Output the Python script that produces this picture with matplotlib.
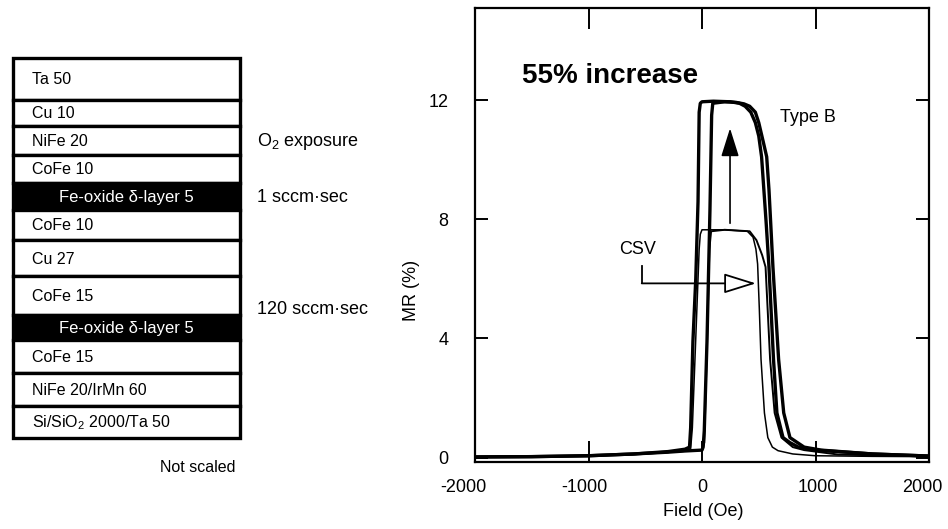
import matplotlib
matplotlib.use("Agg")
import matplotlib.pyplot as plt
from matplotlib.patches import Rectangle

plt.rcParams['font.family'] = ['Liberation Sans', 'DejaVu Sans']
plt.rcParams['mathtext.fontset'] = 'custom'
plt.rcParams['mathtext.rm'] = 'Liberation Sans'
plt.rcParams['mathtext.default'] = 'regular'

# ---------------- data ----------------
layer_names = ["Ta 50", "Cu 10", "NiFe 20", "CoFe 10", "Fe-oxide \u03b4-layer 5",
               "CoFe 10", "Cu 27", "CoFe 15", "Fe-oxide \u03b4-layer 5", "CoFe 15",
               "NiFe 20/IrMn 60", "Si/SiO$_2$ 2000/Ta 50"]
layer_oxide = [False, False, False, False, True, False, False, False, True, False, False, False]

exposure_title = "O$_2$ exposure"
exposure_labels = ["1 sccm\u00b7sec", "120 sccm\u00b7sec"]

# Type B (thick) - decreasing-field branch
tb_desc_field = [2000, 1500, 1000, 850, 775, 714, 660, 630, 590, 565, 545, 525, 500, 470,
                 430, 380, 330, 250, 100, 0, -15, -25, -35, -55, -80, -100, -110, -150, -300,
                 -600, -1000, -1500, -2000]
tb_desc_mr = [0.05, 0.12, 0.25, 0.35, 0.5, 0.67, 1.5, 3.3, 6.4, 7.9, 9.0, 10.1, 10.8, 11.25,
              11.6, 11.8, 11.9, 11.95, 11.97, 11.95, 11.9, 11.6, 8.6, 6.0, 3.9, 1.0, 0.35, 0.28,
              0.2, 0.12, 0.06, 0.03, 0.02]
# Type B (thick) - increasing-field branch
tb_asc_field = [-2000, -1500, -1000, -600, -300, -150, 0, 10, 20, 44, 70, 85, 95, 200, 300,
                370, 420, 470, 500, 540, 570, 590, 605, 625, 675, 720, 775, 900, 1050, 1500, 2000]
tb_asc_mr = [0.02, 0.03, 0.06, 0.12, 0.18, 0.22, 0.25, 0.35, 0.9, 3.9, 8.3, 11.5, 11.9, 11.95,
             11.93, 11.88, 11.8, 11.6, 11.25, 10.6, 10.1, 9.0, 7.9, 6.4, 3.3, 1.5, 0.67, 0.35,
             0.25, 0.12, 0.05]
# CSV (thin) - decreasing-field branch
csv_desc_field = [2000, 1500, 1000, 800, 670, 620, 580, 550, 520, 505, 490, 475, 450, 400,
                  200, 0, -15, -25, -55, -85, -100, -150, -300, -600, -1000, -2000]
csv_desc_mr = [0.03, 0.04, 0.06, 0.12, 0.23, 0.35, 0.67, 1.5, 3.3, 5.0, 6.5, 7.0, 7.4, 7.6,
               7.65, 7.65, 7.5, 7.0, 4.0, 1.0, 0.3, 0.22, 0.18, 0.11, 0.06, 0.02]
# CSV (thin) - increasing-field branch
csv_asc_field = [-2000, -1000, -600, -300, -150, 0, 20, 45, 65, 80, 200, 420, 480, 530, 560,
                 600, 640, 700, 800, 900, 1200, 2000]
csv_asc_mr = [0.02, 0.06, 0.11, 0.18, 0.22, 0.25, 0.5, 4.0, 7.0, 7.6, 7.65, 7.6, 7.3, 6.8,
              6.4, 3.3, 1.5, 0.67, 0.35, 0.25, 0.1, 0.04]

x_ticks = [-2000, -1000, 0, 1000, 2000]
x_ticklabels = ["-2000", "-1000", "0", "1000", "2000"]
y_ticks = [0, 4, 8, 12]
y_ticklabels = ["0", "4", "8", "12"]

# ---------------- figure ----------------
W, H = 948, 529
fig = plt.figure(figsize=(W / 100, H / 100), dpi=100)

# left: layer stack diagram in pixel coordinates
axd = fig.add_axes([0, 0, 1, 1])
axd.set_xlim(0, W)
axd.set_ylim(H, 0)
axd.axis('off')

box_left, box_right = 13, 240
edges = [58, 100, 126, 155, 183, 210, 240, 276, 315, 340, 373, 406, 438]
for i, name in enumerate(layer_names):
    top, bot = edges[i], edges[i + 1]
    ox = layer_oxide[i]
    axd.add_patch(Rectangle((box_left, top), box_right - box_left, bot - top,
                            facecolor='black' if ox else 'white', edgecolor='black',
                            linewidth=2.4, zorder=2))
    yc = (top + bot) / 2 + 1
    if ox:
        axd.text((box_left + box_right) / 2, yc, name, color='white', fontsize=12,
                 ha='center', va='center', zorder=3)
    else:
        axd.text(32, yc, name, color='black', fontsize=11.5, ha='left', va='center', zorder=3)

axd.text(257, 142, exposure_title, fontsize=13, ha='left', va='center')
axd.text(257, 197, exposure_labels[0], fontsize=13, ha='left', va='center')
axd.text(257, 310, exposure_labels[1], fontsize=13, ha='left', va='center')
axd.text(236, 468, "Not scaled", fontsize=11.5, ha='right', va='center')

# right: MR curves
ax = fig.add_axes([475 / W, 1 - 462 / H, (929 - 475) / W, (462 - 8) / H])
ax.set_xlim(-2000, 2000)
ax.set_ylim(-0.15, 15.1)

ax.plot(csv_desc_field, csv_desc_mr, color='black', lw=1.1, solid_joinstyle='round')
ax.plot(csv_asc_field, csv_asc_mr, color='black', lw=1.4, solid_joinstyle='round')
ax.plot(tb_desc_field, tb_desc_mr, color='black', lw=2.4, solid_joinstyle='round')
ax.plot(tb_asc_field, tb_asc_mr, color='black', lw=2.4, solid_joinstyle='round')

for s in ax.spines.values():
    s.set_linewidth(1.6)

ax.set_xticks(x_ticks)
ax.set_xticklabels([])
ax.set_yticks(y_ticks)
ax.set_yticklabels(y_ticklabels, fontsize=13)
ax.tick_params(axis='x', direction='in', length=15, width=1.4, top=True, bottom=True)
ax.tick_params(axis='y', direction='in', length=9.5, width=1.4, left=True, right=True, pad=19)

# x tick labels placed individually (end labels sit slightly inward, as in the original)
label_dx = [-12, -4, 0, 2, -7]
for t, lab, dx in zip(x_ticks, x_ticklabels, label_dx):
    ax.annotate(lab, xy=(t, 0), xycoords=('data', 'axes fraction'),
                xytext=(dx, -26), textcoords='offset pixels',
                ha='center', va='center', fontsize=13, annotation_clip=False)

fig.text(703 / W, 1 - 512 / H, "Field (Oe)", fontsize=13, ha='center', va='center')
fig.text(411 / W, 1 - 290 / H, "MR (%)", fontsize=13, ha='center', va='center', rotation=90)

ax.text(-1590, 12.8, "55% increase", fontsize=20, fontweight='bold', ha='left', va='center')
ax.text(687, 11.43, "Type B", fontsize=13, ha='left', va='center')
ax.text(-564, 7.0, "CSV", fontsize=13, ha='center', va='center')

# vertical filled arrow
ax.annotate("", xy=(247, 11.06), xytext=(247, 7.87),
            arrowprops=dict(arrowstyle='-|>,head_length=0.7,head_width=0.22',
                            mutation_scale=25, lw=1.2, color='black',
                            shrinkA=0, shrinkB=0))
# CSV bent arrow with open head
ax.plot([-531, -531], [6.45, 5.85], color='black', lw=1.3, solid_capstyle='projecting')
ax.annotate("", xy=(475, 5.85), xytext=(-531, 5.85),
            arrowprops=dict(arrowstyle='-|>,head_length=0.8,head_width=0.25',
                            mutation_scale=25, lw=1.3, edgecolor='black',
                            facecolor='white', shrinkA=0, shrinkB=0))

fig.savefig("out.png", dpi=100)
